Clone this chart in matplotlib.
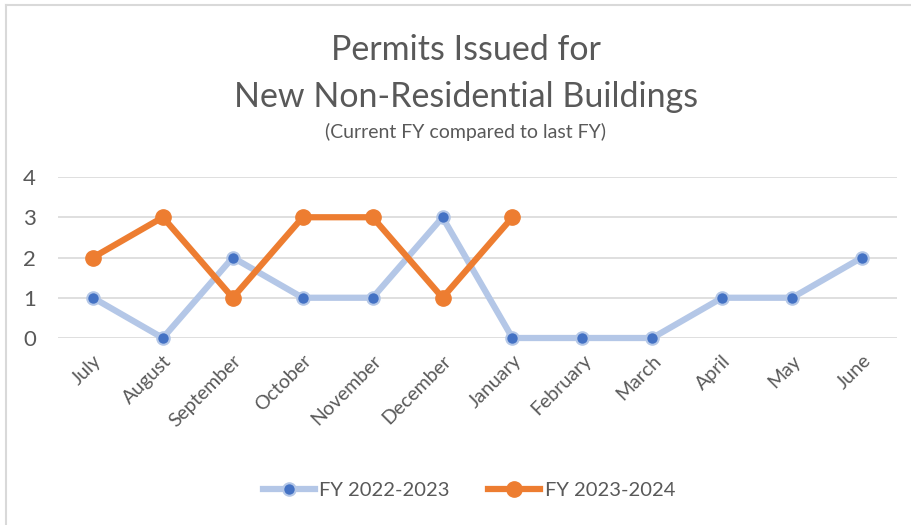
import matplotlib.pyplot as plt
from matplotlib.lines import Line2D

# データ
months = ["July", "August", "September", "October", "November", "December",
          "January", "February", "March", "April", "May", "June"]
fy_2022_2023 = [1, 0, 2, 1, 1, 3, 0, 0, 0, 1, 1, 2]
fy_2023_2024 = [2, 3, 1, 3, 3, 1, 3]

TEXT = "#595959"
GRID = "#D9D9D9"

plt.rcParams['font.family'] = ['Lato', 'DejaVu Sans']

fig = plt.figure(figsize=(9.12, 5.25), dpi=100)
W, H = 912, 525
ax = fig.add_axes([58 / W, 1 - 338 / H, (897 - 58) / W, (338 - 177) / H])

x = list(range(len(months)))
ax.plot(x, fy_2022_2023, color="#B4C7E7", lw=4.5, marker="o", ms=9,
        mfc="#4472C4", mec="#B4C7E7", mew=1.5, zorder=3, clip_on=False,
        solid_capstyle="round", label="FY 2022-2023")
ax.plot(x[:len(fy_2023_2024)], fy_2023_2024, color="#ED7D31", lw=4.5,
        marker="o", ms=11, mfc="#ED7D31", mec="#ED7D31", zorder=4,
        clip_on=False, solid_capstyle="round", label="FY 2023-2024")

ax.set_xlim(-0.5, len(months) - 0.5)
ax.set_ylim(0, 4)
ax.set_yticks([0, 1, 2, 3, 4])
ax.grid(axis="y", color=GRID, lw=1.2)
ax.set_axisbelow(True)
for s in ax.spines.values():
    s.set_visible(False)
ax.set_xticks(x)
ax.set_xticklabels(months, rotation=45, ha="right", rotation_mode="anchor",
                   fontsize=14, color=TEXT)
ax.tick_params(axis="both", length=0, colors=TEXT)
ax.tick_params(axis="x", pad=10)
ax.tick_params(axis="y", pad=16)
for lbl in ax.get_yticklabels():
    lbl.set_fontsize(16)

# タイトル
cx = 466 / W
fig.text(cx, 1 - 50 / H, "Permits Issued for", ha="center", va="center",
         fontsize=24.5, color=TEXT)
fig.text(cx, 1 - 97 / H, "New Non-Residential Buildings", ha="center",
         va="center", fontsize=24.5, color=TEXT)
fig.text(cx, 1 - 132 / H, "(Current FY compared to last FY)", ha="center",
         va="center", fontsize=14, color=TEXT)

# 凡例
handles = [
    Line2D([0], [0], color="#B4C7E7", lw=4.5, marker="o", ms=9,
           mfc="#4472C4", mec="#B4C7E7", mew=1.5),
    Line2D([0], [0], color="#ED7D31", lw=4.5, marker="o", ms=11,
           mfc="#ED7D31", mec="#ED7D31"),
]
fig.legend(handles, ["FY 2022-2023", "FY 2023-2024"], loc="center",
           bbox_to_anchor=(469 / W, 1 - 490 / H), ncol=2, frameon=False,
           fontsize=14.5, labelcolor=TEXT, handlelength=2.6, handletextpad=0.2,
           columnspacing=1.9)

# 枠線
fig.add_artist(Line2D([6 / W, 6 / W], [0, 1 - 5 / H], color=GRID, lw=1.5))
fig.add_artist(Line2D([6 / W, 1], [1 - 5 / H, 1 - 5 / H], color=GRID, lw=1.5))

fig.savefig("out.png", dpi=100, facecolor="white")
